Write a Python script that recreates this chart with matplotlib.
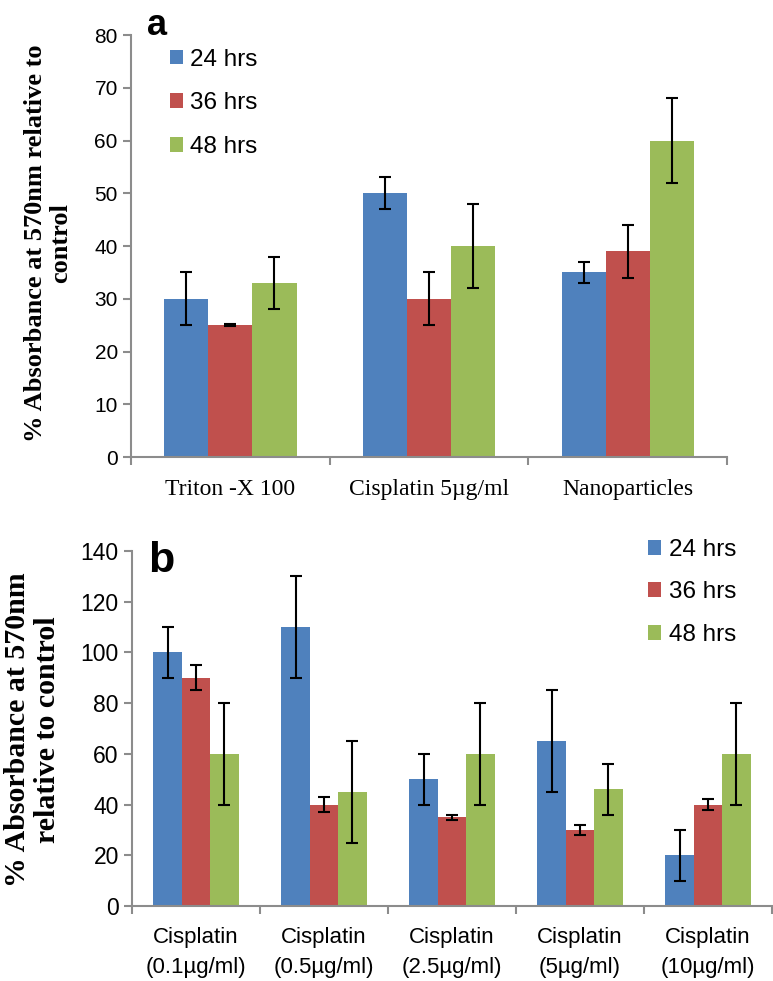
import numpy as np
import matplotlib.pyplot as plt

# Dati pannello a
cat_a = ['Triton -X 100', 'Cisplatin 5µg/ml', 'Nanoparticles']
a24 = [30, 50, 35]
a36 = [25, 30, 39]
a48 = [33, 40, 60]
a24_err = [5, 3, 2]
a36_err = [0.15, 5, 5]
a48_err = [5, 8, 8]

# Dati pannello b
cat_b = ['Cisplatin\n(0.1µg/ml)', 'Cisplatin\n(0.5µg/ml)', 'Cisplatin\n(2.5µg/ml)',
         'Cisplatin\n(5µg/ml)', 'Cisplatin\n(10µg/ml)']
b24 = [100, 110, 50, 65, 20]
b36 = [90, 40, 35, 30, 40]
b48 = [60, 45, 60, 46, 60]
b24_err = [10, 20, 10, 20, 10]
b36_err = [5, 3, 1, 2, 2]
b48_err = [20, 20, 20, 10, 20]

series = ['24 hrs', '36 hrs', '48 hrs']
colors = ['#4F81BD', '#C0504D', '#9BBB59']
grigio = '#8C8C8C'


def pannello(ax, cats, vals, errs, ymax, ystep, yt_size):
    n = len(cats)
    x = np.arange(n)
    w = 0.222
    for i in range(3):
        ax.bar(x + (i - 1) * w, vals[i], w, color=colors[i], label=series[i],
               yerr=errs[i], capsize=4.5,
               error_kw=dict(elinewidth=1.5, capthick=1.5, ecolor='black'))
    ax.set_xlim(-0.5, n - 0.5)
    ax.set_ylim(0, ymax)
    ax.set_yticks(np.arange(0, ymax + 1, ystep))
    ax.set_xticks(x)
    ax.set_xticks(np.arange(n + 1) - 0.5, minor=True)
    ax.tick_params(axis='x', which='minor', length=6, width=1.5, color=grigio)
    ax.tick_params(axis='y', length=6, width=1.5, color=grigio, labelsize=yt_size,
                   labelfontfamily='Liberation Sans')
    for s in ['top', 'right']:
        ax.spines[s].set_visible(False)
    for s in ['left', 'bottom']:
        ax.spines[s].set_color(grigio)
        ax.spines[s].set_linewidth(1.5)


fig = plt.figure(figsize=(7.73, 9.81), dpi=100)

# Pannello a
ax1 = fig.add_axes([0.1695, 0.5341, 0.771, 0.4302])
pannello(ax1, cat_a, [a24, a36, a48], [a24_err, a36_err, a48_err], 80, 10, 15)
ax1.set_xticklabels(cat_a, fontsize=17, family='Liberation Serif')
ax1.tick_params(axis='x', which='major', length=0, pad=16)
ax1.set_ylabel('% Absorbance at 570nm relative to\ncontrol', fontsize=19,
               family='Liberation Serif', fontweight='bold', linespacing=1.15,
               va='center')
ax1.yaxis.set_label_coords(-0.139, 0.507)
ax1.text(0.027, 1.0, 'a', transform=ax1.transAxes, fontsize=26, fontweight='bold',
         family='Liberation Sans', va='baseline')
ax1.legend(loc='upper left', bbox_to_anchor=(0.065, 0.968), frameon=False,
           prop={'family': 'Liberation Sans', 'size': 17.5}, handlelength=0.55,
           handleheight=0.55, handletextpad=0.3, labelspacing=0.9, borderpad=0,
           borderaxespad=0)

# Pannello b
ax2 = fig.add_axes([0.1708, 0.0765, 0.828, 0.3618])
pannello(ax2, cat_b, [b24, b36, b48], [b24_err, b36_err, b48_err], 140, 20, 16.5)
ax2.set_xticklabels(cat_b, fontsize=16, family='Liberation Sans', linespacing=1.55)
ax2.tick_params(axis='x', which='major', length=0, pad=15)
ax2.set_ylabel('% Absorbance at 570nm\nrelative to control', fontsize=21.5,
               family='Liberation Serif', fontweight='bold', linespacing=1.15,
               va='center')
ax2.yaxis.set_label_coords(-0.155, 0.496)
ax2.text(0.025, 0.941, 'b', transform=ax2.transAxes, fontsize=31, fontweight='bold',
         family='Liberation Sans', va='baseline')
ax2.legend(loc='upper left', bbox_to_anchor=(0.806, 1.034), frameon=False,
           prop={'family': 'Liberation Sans', 'size': 17.5}, handlelength=0.55,
           handleheight=0.55, handletextpad=0.3, labelspacing=0.84, borderpad=0,
           borderaxespad=0)

fig.savefig('out.png', dpi=100)
